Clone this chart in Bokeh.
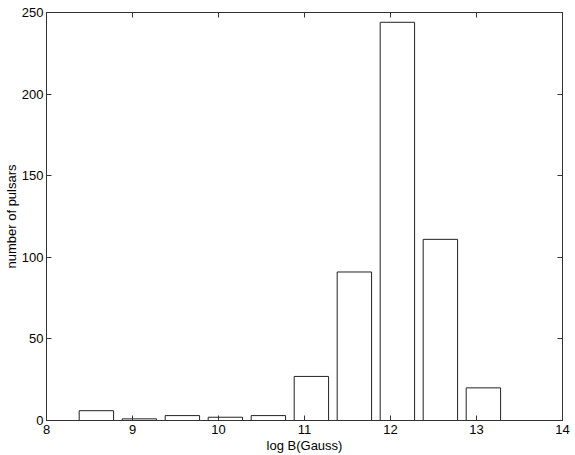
from bokeh.plotting import figure
from bokeh.models import LinearAxis, FixedTicker, Range1d
from bokeh.embed import file_html
from bokeh.resources import INLINE

# data
bin_centers = [8.58, 9.08, 9.58, 10.08, 10.58, 11.08, 11.58, 12.08, 12.58, 13.08]
counts = [6, 1, 3, 2, 3, 27, 91, 244, 111, 20]
bar_width = 0.4
x_ticks = [8, 9, 10, 11, 12, 13, 14]
y_ticks = [0, 50, 100, 150, 200, 250]

FONT = "Liberation Sans"

p = figure(width=575, height=455, x_range=Range1d(8, 14), y_range=Range1d(0, 250),
           output_backend="svg", toolbar_location=None,
           min_border_left=45, min_border_right=13, min_border_top=12, min_border_bottom=35,
           x_axis_label="log B(Gauss)", y_axis_label="number of pulsars")

p.vbar(x=bin_centers, top=counts, width=bar_width, bottom=0,
       fill_color="white", line_color="#222222", line_width=1)

p.grid.visible = False
p.outline_line_color = "#333333"
p.outline_line_width = 1
p.background_fill_color = "white"
p.border_fill_color = "white"


def style(ax):
    ax.major_tick_in = 5
    ax.major_tick_out = 0
    ax.minor_tick_in = 0
    ax.minor_tick_out = 0
    ax.axis_line_color = "#333333"
    ax.major_tick_line_color = "#333333"
    ax.major_label_text_font = FONT
    ax.major_label_text_font_size = "13px"
    ax.major_label_text_color = "black"
    ax.axis_label_text_font = FONT
    ax.axis_label_text_font_size = "13px"
    ax.axis_label_text_font_style = "normal"
    ax.axis_label_text_color = "black"


xa = p.xaxis[0]
style(xa)
xa.ticker = FixedTicker(ticks=x_ticks)
xa.major_label_standoff = 4
xa.axis_label_standoff = 1

ya = p.yaxis[0]
style(ya)
ya.ticker = FixedTicker(ticks=y_ticks)
ya.major_label_standoff = 3
ya.axis_label_standoff = 0

top = LinearAxis(ticker=FixedTicker(ticks=x_ticks))
style(top)
top.major_label_overrides = {t: "" for t in x_ticks}
top.major_label_standoff = 0
p.add_layout(top, "above")

right = LinearAxis(ticker=FixedTicker(ticks=y_ticks))
style(right)
right.major_label_overrides = {t: "" for t in y_ticks}
right.major_label_standoff = 0
p.add_layout(right, "right")

open("out.html", "w").write(file_html(p, INLINE))
